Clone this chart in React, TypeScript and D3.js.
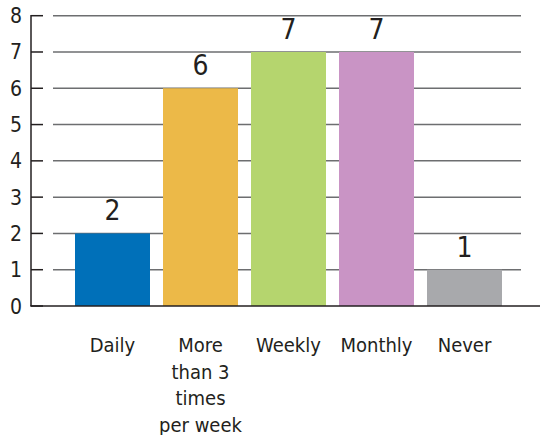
import React from 'react';
import * as d3 from 'd3';

const categories = ['Daily', 'More than 3 times per week', 'Weekly', 'Monthly', 'Never'];
const labelLines = [['Daily'], ['More', 'than 3', 'times', 'per week'], ['Weekly'], ['Monthly'], ['Never']];
const values = [2, 6, 7, 7, 1];
const colors = ['#0070b9', '#ecb948', '#b5d56e', '#c994c5', '#a8a9ac'];
const yTicks = [0, 1, 2, 3, 4, 5, 6, 7, 8];

const W = 540;
const H = 435;
const FONT = "'Liberation Sans Narrow', 'DejaVu Sans Condensed', 'Arial Narrow', sans-serif";

const App = () => {
    const y = d3.scaleLinear().domain([0, 8]).range([306, 15.7]);
    const x = d3.scaleBand<string>()
        .domain(categories)
        .range([68.5, 508.5])
        .paddingInner(13 / 88)
        .paddingOuter(13 / 176);

    const axisX = 31;

    return (
        <svg width={W} height={H} style={{ position: 'absolute', left: 0, top: 0, background: '#fff' }} fontFamily={FONT}>
            {/* gridlines */}
            {yTicks.filter(t => t > 0).map(t => (
                <line key={'g' + t} x1={53} x2={521} y1={y(t)} y2={y(t)} stroke="#6d6e70" strokeWidth={1.5} />
            ))}
            {/* bars */}
            {categories.map((c, i) => (
                <rect key={c} x={x(c)} y={y(values[i])} width={x.bandwidth()} height={y(0) - y(values[i])} fill={colors[i]} />
            ))}
            {/* value labels */}
            {categories.map((c, i) => (
                <text key={'v' + c} x={(x(c) ?? 0) + x.bandwidth() / 2} y={y(values[i]) - 13}
                    textAnchor="middle" fontSize={28} fill="#231f20">{values[i]}</text>
            ))}
            {/* axis */}
            <line x1={axisX} x2={axisX} y1={y(8) - 0.75} y2={y(0)} stroke="#231f20" strokeWidth={1.5} />
            <line x1={axisX - 0.75} x2={W} y1={y(0)} y2={y(0)} stroke="#231f20" strokeWidth={1.5} />
            {yTicks.map(t => (
                <g key={'t' + t}>
                    <line x1={axisX} x2={axisX + 12} y1={y(t)} y2={y(t)} stroke="#231f20" strokeWidth={1.5} />
                    <text x={16} y={y(t) + 7.5} textAnchor="middle" fontSize={21} fill="#231f20">{t}</text>
                </g>
            ))}
            {/* category labels */}
            {categories.map((c, i) => (
                <text key={'c' + c} textAnchor="middle" fontSize={20} fill="#231f20">
                    {labelLines[i].map((l, j) => (
                        <tspan key={j} x={(x(c) ?? 0) + x.bandwidth() / 2} y={352 + j * 26.5}>{l}</tspan>
                    ))}
                </text>
            ))}
        </svg>
    );
};

export default App;
